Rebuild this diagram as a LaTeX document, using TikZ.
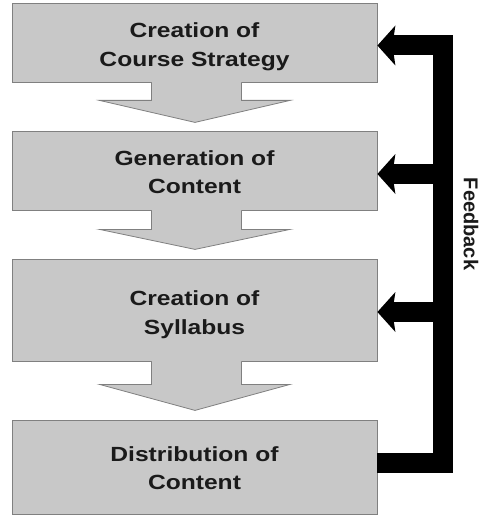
\documentclass[tikz,border=0pt]{standalone}
\usepackage{fontspec}
\setmainfont{Liberation Sans}[FakeStretch=1.2]
\newfontfamily\fbfont{Liberation Sans}
\usetikzlibrary{calc,arrows.meta}
\definecolor{boxfill}{RGB}{200,200,200}
\definecolor{boxline}{RGB}{128,128,128}
\definecolor{txt}{RGB}{26,26,26}
\tikzset{
  stagebox/.style={draw=boxline, line width=0.8pt, fill=boxfill, minimum width=365pt, inner sep=0pt},
  stagelbl/.style={align=center, text=txt, inner sep=0pt, font=\fontsize{20.5}{28.5}\selectfont\bfseries},
  afill/.style={fill=boxfill},
  aline/.style={draw=boxline, line width=0.8pt, line join=miter},
  fbline/.style={draw=black, line width=20pt, line join=miter, line cap=butt},
  fbtip/.style={-{Stealth[length=18pt,width=40pt,inset=3pt,line width=0pt]}},
}
\newcommand\dnarrow[3]{%
  \fill[afill] ($(#1.south)+(-43,-1)$) -- ($(#1.south)+(-43,#2)$) -- ($(#1.south)+(-95,#2)$)
     -- ($(#1.south)+(0.5,#3)$) -- ($(#1.south)+(95.5,#2)$) -- ($(#1.south)+(47,#2)$) -- ($(#1.south)+(47,-1)$) -- cycle;
  \draw[aline] ($(#1.south)+(-43,0)$) -- ($(#1.south)+(-43,#2)$) -- ($(#1.south)+(-95,#2)$)
     -- ($(#1.south)+(0.5,#3)$) -- ($(#1.south)+(95.5,#2)$) -- ($(#1.south)+(47,#2)$) -- ($(#1.south)+(47,0)$);}
\begin{document}
\begin{tikzpicture}[x=1pt,y=-1pt]
\useasboundingbox[fill=white] (0,0) rectangle (483,516);
% stage boxes
\node[stagebox, minimum height=79pt] (b1) at (194.5,42.5) {};
\node[stagebox, minimum height=79pt] (b2) at (194.5,170.5) {};
\node[stagebox, minimum height=102pt] (b3) at (194.5,310) {};
\node[stagebox, minimum height=94pt] (b4) at (194.5,467) {};
% labels
\node[stagelbl] (t1) at (194.5,46.5) {Creation of\\Course Strategy};
\node[stagelbl] (t2) at (194.5,172) {Generation of\\Content};
\node[stagelbl] (t3) at (194.5,314.5) {Creation of\\Syllabus};
\node[stagelbl] (t4) at (194.5,468) {Distribution of\\Content};
% down arrows
\dnarrow{b1}{18}{40}
\dnarrow{b2}{19}{39}
\dnarrow{b3}{23}{49}
% feedback
\coordinate (fbot) at (443,463);
\coordinate (ftop) at (443,45.5);
\coordinate (fmid2) at (443,174);
\coordinate (fmid3) at (443,312);
\draw[fbline, fbtip] (b4.east |- fbot) -- (fbot) -- (ftop) -- (b1.east |- ftop);
\draw[fbline, fbtip] (fmid2) -- (b2.east |- fmid2);
\draw[fbline, fbtip] (fmid3) -- (b3.east |- fmid3);
\node[rotate=-90, text=txt, inner sep=0pt, font=\fbfont\fontsize{20}{24}\selectfont\bfseries] (fb) at (471,224) {Feedback};
\end{tikzpicture}
\end{document}
